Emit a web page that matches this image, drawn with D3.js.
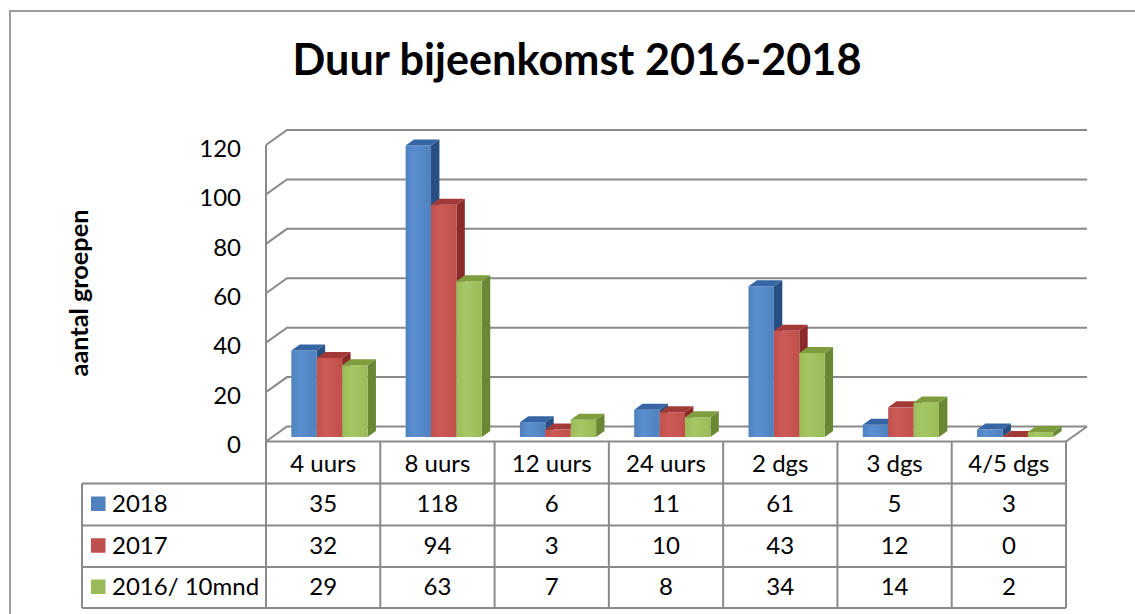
<!DOCTYPE html>
<html>
<head>
<meta charset="utf-8">
<script src="https://cdn.jsdelivr.net/npm/d3@7"></script>
<style>
  html, body { margin: 0; padding: 0; background: #fff; }
  svg { display: block; font-family: Lato, "Open Sans", sans-serif; }
</style>
</head>
<body>
<svg id="chart" width="1135" height="614"></svg>
<script>
// ---- data ----
const categories = ["4 uurs", "8 uurs", "12 uurs", "24 uurs", "2 dgs", "3 dgs", "4/5 dgs"];
const seriesNames = ["2018", "2017", "2016/ 10mnd"];
const values2018 = [35, 118, 6, 11, 61, 5, 3];
const values2017 = [32, 94, 3, 10, 43, 12, 0];
const values2016 = [29, 63, 7, 8, 34, 14, 2];
const yTicks = [0, 20, 40, 60, 80, 100, 120];
const chartTitle = "Duur bijeenkomst 2016-2018";
const yTitle = "aantal groepen";

const seriesValues = [values2018, values2017, values2016];
const colors = [
  { front: "#4F81BD", light: "#5a8fd0", top: "#3565a3", side: "#284f82" },
  { front: "#C0504D", light: "#cd5a56", top: "#a43a37", side: "#8a2b29" },
  { front: "#9BBB59", light: "#a6c765", top: "#7f9d3f", side: "#6a8734" }
];

// ---- layout ----
const svg = d3.select("#chart");
const X0 = 266, X1 = 1066;
const DX = 21, DY = 15;           // depth offset of the 3D floor
const zFront = 0.3, zBack = 0.7;  // bar depth range
const gridColor = "#8a8a8a";
const fs = 24;

const x = d3.scaleBand().domain(categories).range([X0, X1]).paddingInner(0).paddingOuter(0);
const xs = d3.scaleBand().domain(seriesNames).range([0, x.bandwidth()]).paddingInner(0).paddingOuter(0.75);
const y = d3.scaleLinear().domain([0, 120]).range([441.5, 145]);

const P = (xf, v, z) => [xf + z * DX, y(v) - z * DY];
const poly = pts => "M" + pts.map(p => p.join(",")).join("L") + "Z";

// outer border
svg.append("rect").attr("x", 10).attr("y", 11).attr("width", 1200).attr("height", 700)
  .attr("fill", "none").attr("stroke", "#9c9c9c").attr("stroke-width", 2);

// gradients
const defs = svg.append("defs");
colors.forEach((c, i) => {
  const g = defs.append("linearGradient").attr("id", "gf" + i).attr("x1", 0).attr("x2", 1).attr("y1", 0).attr("y2", 0);
  g.append("stop").attr("offset", "0%").attr("stop-color", c.front);
  g.append("stop").attr("offset", "35%").attr("stop-color", c.light);
  g.append("stop").attr("offset", "100%").attr("stop-color", c.front);
});

// title
const title = svg.append("text").attr("x", 577).attr("y", 75).attr("text-anchor", "middle")
  .attr("font-weight", "bold").attr("font-size", 40).attr("fill", "#000").text(chartTitle);
(function fit(t, w) { const l = t.node().getComputedTextLength(); t.attr("font-size", 40 * w / l); })(title, 569);

// walls and gridlines
const grid = svg.append("g").attr("fill", "none").attr("stroke", gridColor).attr("stroke-width", 2);
yTicks.forEach(v => {
  const a = P(X0, v, 0), b = P(X0, v, 1), c = P(X1, v, 1);
  grid.append("path").attr("d", "M" + a + "L" + b + "L" + c);
});
// left wall front edge
grid.append("line").attr("x1", X0).attr("x2", X0).attr("y1", y(120)).attr("y2", y(0));
// floor front & right edge
const f1 = P(X0, 0, 0), f2 = P(X1, 0, 0), f3 = P(X1, 0, 1);
grid.append("path").attr("d", "M" + f1 + "L" + f2 + "L" + f3);

// y axis labels
const yAxis = d3.axisLeft(y).tickValues(yTicks).tickSize(0).tickPadding(0);
const ya = svg.append("g").attr("transform", "translate(241,3.5)").call(yAxis);
ya.select(".domain").remove();
ya.selectAll("text").attr("font-family", "Lato, 'Open Sans', sans-serif").attr("font-size", fs).attr("fill", "#000");

// y title
const yt = svg.append("text").attr("transform", "translate(88,293) rotate(-90)")
  .attr("text-anchor", "middle").attr("font-weight", "bold").attr("font-size", 22).attr("fill", "#000").text(yTitle);
(function fit(t, w) { const l = t.node().getComputedTextLength(); t.attr("font-size", 22 * w / l); })(yt, 167);

// bars (painter's order: left to right)
const bars = svg.append("g");
categories.forEach((cat, ci) => {
  seriesNames.forEach((s, si) => {
    const v = seriesValues[si][ci];
    const xl = x(cat) + xs(s), xr = xl + xs.bandwidth();
    const c = colors[si];
    const g = bars.append("g");
    // right side
    g.append("path").attr("fill", c.side)
      .attr("d", poly([P(xr, 0, zFront), P(xr, 0, zBack), P(xr, v, zBack), P(xr, v, zFront)]));
    // front
    g.append("path").attr("fill", "url(#gf" + si + ")")
      .attr("d", poly([P(xl, 0, zFront), P(xr, 0, zFront), P(xr, v, zFront), P(xl, v, zFront)]));
    // top
    g.append("path").attr("fill", c.top)
      .attr("d", poly([P(xl, v, zFront), P(xr, v, zFront), P(xr, v, zBack), P(xl, v, zBack)]));
  });
});

// data table
const rowTops = [441.5, 483.5, 525.5, 567, 608];
const TL = 82;
const tbl = svg.append("g").attr("stroke", gridColor).attr("stroke-width", 2).attr("fill", "none");
for (let r = 1; r < rowTops.length; r++) {
  tbl.append("line").attr("x1", TL).attr("x2", X1).attr("y1", rowTops[r]).attr("y2", rowTops[r]);
}
const colEdges = categories.map(c => x(c)).concat([X1]);
colEdges.forEach(cx => {
  tbl.append("line").attr("x1", cx).attr("x2", cx).attr("y1", rowTops[0]).attr("y2", rowTops[4]);
});
tbl.append("line").attr("x1", TL).attr("x2", TL).attr("y1", rowTops[1]).attr("y2", rowTops[4]);

const txt = svg.append("g").attr("font-size", fs).attr("fill", "#000");
categories.forEach(cat => {
  txt.append("text").attr("x", x(cat) + x.bandwidth() / 2).attr("y", (rowTops[0] + rowTops[1]) / 2 + 9)
    .attr("text-anchor", "middle").text(cat);
});
seriesNames.forEach((s, si) => {
  const cy = (rowTops[si + 1] + rowTops[si + 2]) / 2;
  svg.append("rect").attr("x", 91).attr("y", cy - 8).attr("width", 14.5).attr("height", 14.5)
    .attr("fill", colors[si].front);
  txt.append("text").attr("x", 112).attr("y", cy + 7.5).text(s);
  categories.forEach((cat, ci) => {
    txt.append("text").attr("x", x(cat) + x.bandwidth() / 2).attr("y", cy + 7.5)
      .attr("text-anchor", "middle").text(seriesValues[si][ci]);
  });
});
</script>
</body>
</html>
